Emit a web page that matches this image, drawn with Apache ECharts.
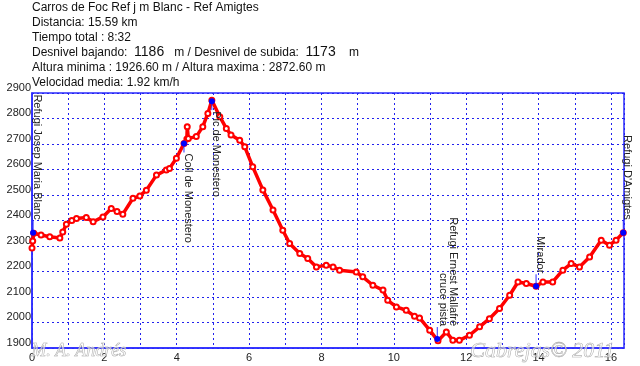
<!DOCTYPE html>
<html>
<head>
<meta charset="utf-8">
<script src="https://cdn.jsdelivr.net/npm/echarts@6/dist/echarts.min.js"></script>
<style>
html,body{margin:0;padding:0;background:#fff;}
#chart{width:640px;height:366px;}
</style>
</head>
<body>
<div id="chart"></div>
<script>
// ---- data ----
var headerLines = [
  'Carros de Foc Ref j m Blanc - Ref Amigtes',
  'Distancia: 15.59 km',
  'Tiempo total : 8:32',
  'Desnivel bajando:  {b|1186}   m / Desnivel de subida:  {b|1173}    m',
  'Altura minima : 1926.60 m / Altura maxima : 2872.60 m',
  'Velocidad media: 1.92 km/h'
];
var distKm = [0.00,0.02,0.05,0.25,0.49,0.77,0.85,0.95,1.10,1.23,1.50,1.69,1.96,2.19,2.35,2.51,2.79,2.98,3.16,3.44,3.71,3.80,3.99,4.20,4.28,4.29,4.32,4.54,4.72,4.86,4.97,5.19,5.37,5.50,5.74,5.88,6.10,6.38,6.66,6.93,7.12,7.40,7.62,7.86,8.13,8.32,8.50,8.96,9.14,9.42,9.70,9.83,10.07,10.34,10.57,10.71,10.99,11.22,11.45,11.63,11.81,12.09,12.37,12.64,12.92,13.20,13.43,13.66,13.93,14.12,14.39,14.67,14.90,15.13,15.41,15.73,15.96,16.14,16.34];
var altitudeM = [2292,2320,2350,2343,2336,2331,2355,2385,2400,2408,2412,2395,2414,2447,2435,2425,2487,2496,2519,2578,2598,2604,2644,2702,2720,2768,2722,2729,2768,2820,2872,2807,2761,2735,2715,2689,2611,2520,2441,2362,2310,2271,2251,2218,2225,2218,2205,2198,2179,2146,2127,2087,2061,2048,2025,2018,1970,1928,1963,1930,1930,1950,1983,2015,2055,2107,2159,2153,2142,2159,2159,2205,2231,2218,2257,2323,2303,2323,2352];
var wpNames = ['Refugi Josep Maria Blanc','Coll de Monestero','Pic de Monestero','Refugi Ernest Mallafré\ncruce pista','Mirador',"Refugi D'Amigtes"];
var wpKm = [0.03,4.20,4.97,11.20,13.93,16.34];
var wpAlt = [2352,2702,2868,1935,2142,2352];
var wpSide = [-1,1,1,-1,-1,-1]; // -1: label above point, 1: below
var yTicks = [1900,2000,2100,2200,2300,2400,2500,2600,2700,2800,2900];
var watermarkLeft = 'M. A. Andrés';
var watermarkRight = 'Cabrejas© 2011';

// ---- chart ----
var chart = echarts.init(document.getElementById('chart'), null, {renderer:'canvas'});
var profile = distKm.map(function(k,i){return [k, altitudeM[i]];});
var wps = wpKm.map(function(k,i){return [k, wpAlt[i], wpSide[i]];});
var blue = '#2b2bff';
var font = '"Liberation Sans", Arial, sans-serif';

var option = {
  animation:false,
  backgroundColor:'#fff',
  title:{
    text: headerLines.join('\n'),
    left:32, top:0, padding:0,
    textStyle:{fontSize:12, fontWeight:'normal', color:'#111', lineHeight:15, fontFamily:font,
      rich:{b:{fontSize:14, lineHeight:15, color:'#111', fontFamily:font}}}
  },
  grid:{left:32, right:16, top:93, bottom:18, show:true, borderColor:blue, borderWidth:1.5, backgroundColor:'transparent'},
  xAxis:{
    type:'value', min:0, max:16.36, interval:1,
    axisLine:{show:true, lineStyle:{color:blue, width:1.5}},
    axisTick:{show:false},
    axisLabel:{margin:4, fontSize:11, color:'#222', fontFamily:font,
      formatter:function(v){ return (Math.abs(v-Math.round(v))<1e-6 && Math.round(v)%2===0) ? String(Math.round(v)) : ''; }},
    splitLine:{show:true, lineStyle:{color:'#2222ee', width:1, type:[2,3]}}
  },
  yAxis:{
    type:'value', min:yTicks[0], max:yTicks[yTicks.length-1], interval:100,
    axisLine:{show:true, lineStyle:{color:blue, width:1.5}},
    axisTick:{show:false},
    axisLabel:{margin:1, fontSize:11, color:'#222', fontFamily:font, verticalAlign:'bottom', lineHeight:11,
      formatter:function(v){ return String(v); }},
    splitLine:{show:true, lineStyle:{color:'#2222ee', width:1, type:[2,3]}}
  },
  series:[
    {
      type:'line', data:profile, showAllSymbol:true,
      symbol:'emptyCircle', symbolSize:5,
      lineStyle:{color:'#ff0000', width:3.5},
      itemStyle:{color:'#ff0000', borderColor:'#ff0000', borderWidth:1},
      z:3
    },
    {
      type:'custom', data:wps, z:5, clip:false,
      renderItem:function(params, api){
        var p = api.coord([api.value(0), api.value(1)]);
        var side = api.value(2);
        var name = wpNames[params.dataIndex];
        var multi = name.indexOf('\n')>=0;
        var lineLen = side<0 ? 12 : 9;
        var children = [
          {type:'line', shape:{x1:p[0], y1:p[1], x2:p[0], y2:p[1]+side*lineLen}, style:{stroke:blue, lineWidth:1}},
          {type:'circle', shape:{cx:p[0], cy:p[1], r:3}, style:{fill:'#0000ff'}},
          {type:'text', x: p[0] + (multi?1:4), y: p[1] + side*(lineLen+1), rotation:-Math.PI/2,
            style:{text:name, font:'11px '+font, fill:'#222', lineHeight:10,
              align: side<0?'right':'left', verticalAlign: multi?'bottom':'middle'}}
        ];
        return {type:'group', children:children};
      }
    }
  ],
  graphic:[
    {type:'text', left:31, top:342, z:10,
      style:{text:watermarkLeft, font:'italic 18px "Liberation Serif", serif', fill:'rgba(255,255,255,0.5)', stroke:'#9a9a9a', lineWidth:0.6}},
    {type:'text', left:470, top:340, z:10,
      style:{text:watermarkRight, font:'italic 22px "Liberation Serif", serif', fill:'rgba(255,255,255,0.5)', stroke:'#9a9a9a', lineWidth:0.6}}
  ]
};
chart.setOption(option);
</script>
</body>
</html>
